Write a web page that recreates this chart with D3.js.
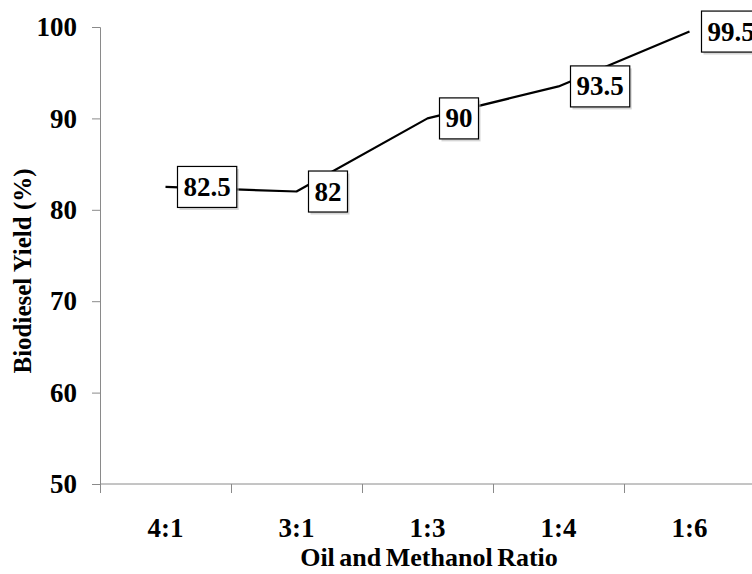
<!DOCTYPE html>
<html>
<head>
<meta charset="utf-8">
<script src="https://cdn.jsdelivr.net/npm/d3@7"></script>
<style>
  body { margin: 0; background: #fff; }
  svg { display: block; }
  svg text { font-family: "Liberation Serif", "DejaVu Serif", serif; font-weight: bold; }
</style>
</head>
<body>
<div id="chart"></div>
<script>
const width = 752;
const height = 574;

// data
const ratios = ["4:1", "3:1", "1:3", "1:4", "1:6"];
const yields = [82.5, 82, 90, 93.5, 99.5];
const yTicks = [50, 60, 70, 80, 90, 100];

const axisColor = "#8a8a8a";

const x = d3.scaleBand(ratios, [100, 755]);
const y = d3.scaleLinear([50, 100], [484, 27]);

const svg = d3.select("#chart").append("svg")
  .attr("width", width)
  .attr("height", height);

// y axis
const yAxis = svg.append("g")
  .attr("transform", "translate(100,0)")
  .call(d3.axisLeft(y).tickValues(yTicks).tickSize(8).tickPadding(15).tickFormat(d3.format("d")));
yAxis.attr("font-family", null);
yAxis.select(".domain").attr("stroke", axisColor);
yAxis.selectAll(".tick line").attr("stroke", axisColor);
yAxis.selectAll(".tick text")
  .attr("fill", "#000")
  .style("font-size", "27px");

// x axis (ticks sit on band edges, like excel)
const xAxis = svg.append("g")
  .attr("transform", "translate(0,484)");
xAxis.append("line")
  .attr("x1", 100).attr("x2", 755)
  .attr("stroke", axisColor);
xAxis.selectAll("line.tk")
  .data(ratios)
  .join("line")
  .attr("class", "tk")
  .attr("x1", d => x(d) + 0.5).attr("x2", d => x(d) + 0.5)
  .attr("y1", 0).attr("y2", 9)
  .attr("stroke", axisColor);
xAxis.selectAll("text")
  .data(ratios)
  .join("text")
  .attr("x", d => x(d) + x.bandwidth() / 2)
  .attr("y", 53)
  .attr("text-anchor", "middle")
  .style("font-size", "27px")
  .text(d => d);

// axis titles
svg.append("text")
  .attr("transform", "translate(31,271) rotate(-90)")
  .attr("text-anchor", "middle")
  .style("font-size", "25px")
  .text("Biodiesel Yield (%)");

svg.append("text")
  .attr("x", 429)
  .attr("y", 566)
  .attr("text-anchor", "middle")
  .style("font-size", "26px")
  .style("word-spacing", "-2px")
  .text("Oil and Methanol Ratio");

// line
const pts = ratios.map((r, i) => ({ r, v: yields[i] }));
const line = d3.line()
  .x(d => x(d.r) + x.bandwidth() / 2)
  .y(d => y(d.v));

svg.append("path")
  .datum(pts)
  .attr("fill", "none")
  .attr("stroke", "#000")
  .attr("stroke-width", 2.2)
  .attr("stroke-linejoin", "round")
  .attr("d", line);

// data labels, boxed, to the right of each point
const lab = svg.append("g").selectAll("g")
  .data(pts)
  .join("g")
  .attr("transform", d => `translate(${x(d.r) + x.bandwidth() / 2 + 12},${y(d.v)})`);

lab.append("text")
  .attr("x", 6)
  .attr("y", 9)
  .style("font-size", "27px")
  .text(d => d.v);

lab.each(function () {
  const g = d3.select(this);
  const w = g.select("text").node().getComputedTextLength() + 12;
  g.insert("rect", "text")
    .attr("x", 2).attr("y", -18).attr("width", w).attr("height", 41)
    .attr("fill", "#bbb").attr("opacity", 0.6);
  g.insert("rect", "text")
    .attr("x", 0).attr("y", -20.5).attr("width", w).attr("height", 41)
    .attr("fill", "#fff").attr("stroke", "#000").attr("stroke-width", 1.2);
});
</script>
</body>
</html>
